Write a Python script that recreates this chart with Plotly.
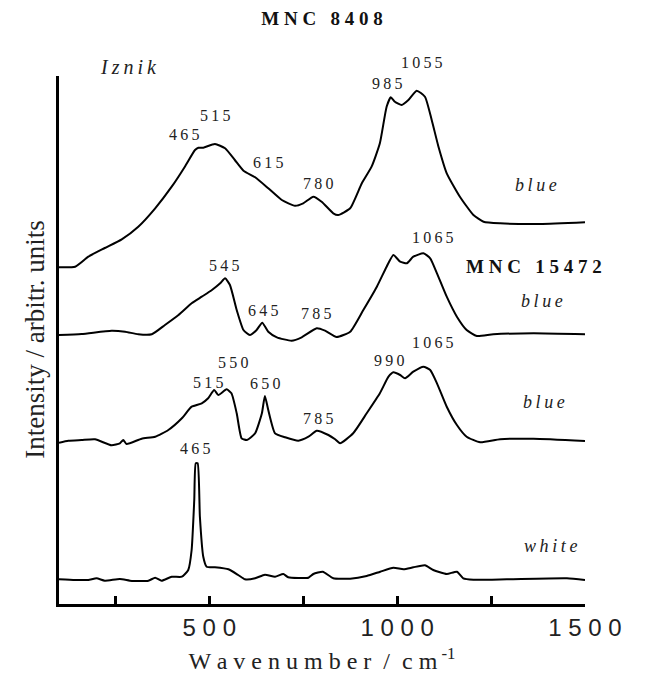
import plotly.graph_objects as go

# ---------------- data (wavenumber / cm-1, intensity in stacked arbitrary units) -------------
wn_8408 = [100, 143, 178, 222, 267, 311, 356, 400, 435, 462, 471, 484, 515, 542, 568, 591, 622,
           657, 693, 728, 750, 777, 799, 830, 843, 875, 906, 932, 954, 972, 983, 994, 1012, 1030,
           1052, 1074, 1092, 1110, 1132, 1167, 1203, 1230, 1274, 1381, 1500]
int_8408 = [336.7, 337.3, 347.3, 356, 364.7, 377.3, 395.7, 417.3, 437.3, 454, 456.3, 456.3, 460,
            455.7, 444, 433.3, 426.7, 415.7, 404, 398.3, 400.7, 407.3, 402.3, 390.7, 389, 395.7,
            420.7, 437.3, 460.7, 497.3, 506.7, 502.3, 499, 504, 513.3, 507.3, 484, 457.3, 430.7,
            407.3, 389, 382.3, 380.7, 380, 381.7]

wn_15472a = [100, 160, 240, 276, 311, 347, 382, 418, 453, 480, 507, 529, 542, 555, 573, 591, 608,
             626, 641, 657, 680, 719, 746, 786, 808, 839, 875, 910, 946, 972, 990, 1008, 1026,
             1043, 1070, 1088, 1106, 1132, 1159, 1185, 1212, 1256, 1363, 1500]
int_15472a = [269, 270, 273.3, 272.3, 269.7, 269.7, 279, 289, 300.7, 307.3, 314, 320.7, 325.7,
              319, 294, 274, 269, 274, 281.3, 272.3, 266.7, 263.3, 266.7, 275.7, 273.3, 267,
              272.3, 294, 317.3, 337.3, 349, 342.3, 340.7, 347.3, 350.7, 345.7, 330.7, 307.3,
              287.3, 274, 268, 269.7, 270.7, 269.7]

wn_15472b = [100, 125, 160, 196, 240, 262, 271, 280, 320, 356, 391, 427, 453, 480, 497, 513, 524,
             546, 559, 573, 586, 600, 622, 640, 648, 657, 675, 702, 737, 764, 786, 817, 835, 848,
             883, 919, 954, 977, 990, 1008, 1021, 1043, 1070, 1088, 1106, 1132, 1159, 1185, 1221,
             1274, 1363, 1500]
int_15472b = [161.3, 163.3, 164, 164.7, 158.7, 160.7, 164, 160, 165.3, 167.3, 174, 185.7, 197.3,
              200.7, 205.7, 214, 209, 214.7, 210.7, 190.7, 165.7, 164, 170.7, 190.7, 208, 194,
              170.7, 166.7, 163.3, 167.3, 173.3, 169, 164.7, 160.7, 170.7, 190.7, 210.7, 227.3,
              231.7, 229, 225.7, 232.3, 237.3, 234, 220.7, 197.3, 179, 167.3, 161.7, 164.7, 165.3,
              163]

wn_white = [100, 143, 178, 200, 222, 262, 294, 338, 356, 373, 400, 427, 444, 453, 460, 464, 469,
            475, 484, 493, 515, 551, 577, 595, 622, 648, 675, 697, 710, 764, 777, 802, 830, 875,
            919, 955, 990, 1017, 1043, 1074, 1096, 1132, 1159, 1176, 1203, 1292, 1452, 1500]
int_white = [24.7, 24, 24, 25.7, 23.3, 25, 23, 23.3, 26.3, 23.3, 27.3, 27.3, 34, 54, 104, 140.7,
             140.7, 87.3, 47.3, 37.3, 36.7, 34.7, 29, 24.7, 25.7, 29.3, 27.3, 30, 26.7, 26.3, 30,
             32.3, 25.7, 25.3, 28, 32.3, 36.3, 34.7, 36.7, 38.7, 34, 30, 32.3, 25.7, 24.3, 24.7,
             25.7, 24]

# peak labels: text, wavenumber position, height position
peak_text = ["465", "515", "615", "780", "985", "1055",
             "545", "645", "785", "1065",
             "515", "550", "650", "785", "990", "1065",
             "465"]
peak_x = [434, 515, 655, 790, 974, 1065,
          539, 644, 783, 1096,
          497, 564, 648, 790, 977, 1096,
          462]
peak_y = [469, 489, 442, 421, 521, 541,
          339, 294, 291, 366,
          222, 242, 221, 186, 244, 262,
          156]

sample_text = ["Iznik", "MNC 15472", "blue", "blue", "blue", "white"]
sample_x = [284, 1364, 1370, 1386, 1391, 1407]
sample_y = [537, 338, 419, 303, 202, 58]

x_major_vals = [500, 1000, 1500]
x_major_text = ["5 0 0", "1 0 0 0", "1 5 0 0"]
x_minor_vals = [250, 750, 1250]

Y_MAX = 528

# ---------------- figure -----------------
SERIF = "Liberation Serif, Times New Roman, serif"
SANS = "Liberation Sans, Arial, sans-serif"


def spaced(s, sep="\u2009"):
    return sep.join(list(s))


fig = go.Figure()
for wn, it in [(wn_8408, int_8408), (wn_15472a, int_15472a),
               (wn_15472b, int_15472b), (wn_white, int_white)]:
    fig.add_trace(go.Scatter(x=wn, y=it, mode="lines",
                             line=dict(color="black", width=2, shape="spline", smoothing=0.5),
                             showlegend=False, hoverinfo="skip"))

for t, x, y in zip(peak_text, peak_x, peak_y):
    fig.add_annotation(x=x, y=y / Y_MAX, xref="x", yref="paper", text=spaced(t),
                       xanchor="center", yanchor="middle",
                       showarrow=False, font=dict(family=SERIF, size=16, color="#222"))

for t, x, y in zip(sample_text, sample_x, sample_y):
    if t.startswith("MNC"):
        txt = "<b>" + spaced(t, " ") + "</b>"
        f = dict(family=SERIF, size=19, color="#111")
    else:
        txt = "<i>" + spaced(t) + "</i>"
        f = dict(family=SERIF, size=18 if t != "Iznik" else 20, color="#222")
    fig.add_annotation(x=x, y=y / Y_MAX, xref="x", yref="paper", text=txt,
                       xanchor="center", yanchor="middle",
                       showarrow=False, font=f)

fig.add_annotation(x=-0.046, y=0.5, xref="paper", yref="paper", xanchor="center",
                   yanchor="middle",
                   text="Intensity / arbitr. units", textangle=-90, showarrow=False,
                   font=dict(family=SERIF, size=27, color="#222"))

fig.update_layout(
    width=649, height=683,
    margin=dict(l=59, r=64, t=76, b=79),
    paper_bgcolor="white", plot_bgcolor="white",
    title=dict(text="<b>" + spaced("MNC 8408", " ") + "</b>", x=0.5, xref="paper",
               xanchor="center", y=1 - 18 / 683, yanchor="middle",
               font=dict(family=SERIF, size=19, color="#111")),
    xaxis=dict(range=[100, 1500], showline=True, linecolor="black", linewidth=2.5,
               mirror=False, showgrid=False, zeroline=False,
               ticks="inside", ticklen=8, tickwidth=2.5, tickcolor="black",
               tickmode="array", tickvals=x_major_vals, ticktext=x_major_text,
               minor=dict(tickmode="array", tickvals=x_minor_vals, ticks="inside",
                          ticklen=8, tickwidth=2.5, tickcolor="black", showgrid=False),
               tickfont=dict(family=SANS, size=24, color="#222"),
               title=dict(text=spaced("Wavenumber", " ") + "\u00a0\u00a0/\u00a0\u00a0" + "c m<sup> -1</sup>",
                          font=dict(family=SERIF, size=24, color="#222"), standoff=13)),
    yaxis=dict(range=[0, Y_MAX], showline=True, linecolor="black", linewidth=2.5,
               showgrid=False, zeroline=False, showticklabels=False, ticks=""),
)

fig.write_html("out.html")
